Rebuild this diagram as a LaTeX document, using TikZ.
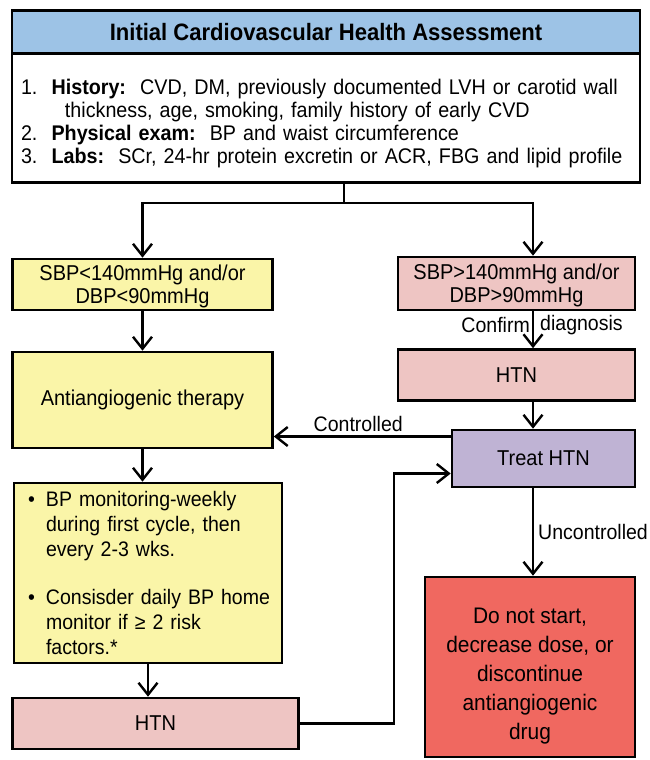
\documentclass[tikz,border=0pt]{standalone}
\usepackage{fontspec}
\setmainfont[FakeStretch=0.93]{Liberation Sans}
\usetikzlibrary{arrows.meta}
\definecolor{headblue}{RGB}{157,195,230}
\definecolor{lowyellow}{RGB}{250,245,168}
\definecolor{htnpink}{RGB}{238,197,195}
\definecolor{treatpurple}{RGB}{191,179,212}
\definecolor{stopred}{RGB}{240,104,96}
\begin{document}
\begin{tikzpicture}
  [x=1pt,y=-1pt,
   every node/.style={font=\fontsize{21.5}{23}\selectfont},
   box/.style={draw,line width=2.6pt,inner sep=0pt,align=center},
   tag/.style={font=\fontsize{21}{23}\selectfont},
   link/.style={line width=2.4pt,-{Straight Barb[length=12pt,width=19pt]}}]
  \useasboundingbox (0,0) rectangle (650,760);

  % boxes
  \node[box,fill=headblue,minimum width=628pt,minimum height=43pt,
        font=\bfseries\fontsize{23.7}{23}\selectfont] (head) at (326,32) {Initial Cardiovascular Health Assessment};
  \node[box,fill=white,align=left,text width=610pt,minimum width=628pt,minimum height=129pt,
        font=\fontsize{21.2}{23}\selectfont] (info) at (326,118)
    {\mbox{\rule{0pt}{27pt}1.\ \ \textbf{History:}\ \ CVD, DM, previously documented LVH or carotid wall}\\
     \mbox{\hspace*{44pt}thickness, age, smoking, family history of early CVD}\\
     \mbox{2.\ \ \textbf{Physical exam:}\ \ BP and waist circumference}\\
     \mbox{3.\ \ \textbf{Labs:}\ \ SCr, 24-hr protein excretin or ACR, FBG and lipid profile}};
  \node[box,fill=lowyellow,minimum width=260pt,minimum height=51pt] (llow) at (142.5,284.5)
    {\rule{0pt}{20pt}SBP<140mmHg and/or\\DBP<90mmHg};
  \node[box,fill=htnpink,minimum width=237pt,minimum height=53pt] (rhigh) at (516.5,283.5)
    {\rule{0pt}{20pt}SBP>140mmHg and/or\\DBP>90mmHg};
  \node[box,fill=lowyellow,minimum width=260pt,minimum height=96pt] (anti) at (142.5,400)
    {Antiangiogenic therapy};
  \node[box,fill=htnpink,minimum width=237pt,minimum height=51pt] (rhtn) at (516.5,375)
    {HTN};
  \node[box,fill=treatpurple,minimum width=183pt,minimum height=57pt] (treat) at (543.5,458.5)
    {Treat HTN};
  \node[box,fill=lowyellow,align=left,text width=240pt,minimum width=268pt,minimum height=180pt,
        font=\fontsize{21}{25}\selectfont] (monitor) at (148,573)
    {\mbox{\makebox[18pt][l]{•}BP monitoring-weekly}\\
     \mbox{\hspace*{18pt}during first cycle, then}\\
     \mbox{\hspace*{18pt}every 2-3 wks.}\\[23pt]
     \mbox{\makebox[18pt][l]{•}Consisder daily BP home}\\
     \mbox{\hspace*{18pt}monitor if ≥ 2 risk}\\
     \mbox{\hspace*{18pt}factors.*}};
  \node[box,fill=htnpink,minimum width=286pt,minimum height=51pt] (lhtn) at (155.5,723.5)
    {HTN};
  \node[box,fill=stopred,minimum width=210pt,minimum height=180pt,
        font=\fontsize{22.5}{29}\selectfont] (stop) at (530,667)
    {\rule{0pt}{34pt}Do not start,\\decrease dose, or\\discontinue\\antiangiogenic\\drug};

  % connectors
  \coordinate (split) at (344,203);
  \coordinate (rcol) at (533,0);
  \coordinate (jog) at (394,0);
  \draw[line width=2.4pt] (split |- info.south) -- (split);
  \draw[link] (split) -| (llow.north);
  \draw[link] (split) -| (rcol |- rhigh.north);
  \draw[link] (llow) -- (anti);
  \draw[link] (anti) -- (monitor.north -| anti.south);
  \draw[link] (monitor) -- (monitor.south |- lhtn.north);
  \draw[link] (rcol |- rhigh.south) -- (rcol |- rhtn.north)
    node[tag,left,pos=.37,inner sep=2pt] {Confirm}
    node[tag,right,pos=.37,inner sep=6pt] {diagnosis};
  \draw[link] (rcol |- rhtn.south) -- (rcol |- treat.north);
  \draw[link] ([yshift=22pt]treat.west) -- ([yshift=22pt]treat.west -| anti.east)
    node[tag,above,midway,xshift=-4pt] {Controlled};
  \draw[link] (lhtn.east) -- (lhtn.east -| jog) |- ([yshift=-15pt]treat.west);
  \draw[link] (rcol |- treat.south) -- (rcol |- stop.north)
    node[tag,right,midway,inner sep=2pt,xshift=2pt] {Uncontrolled};
\end{tikzpicture}
\end{document}
